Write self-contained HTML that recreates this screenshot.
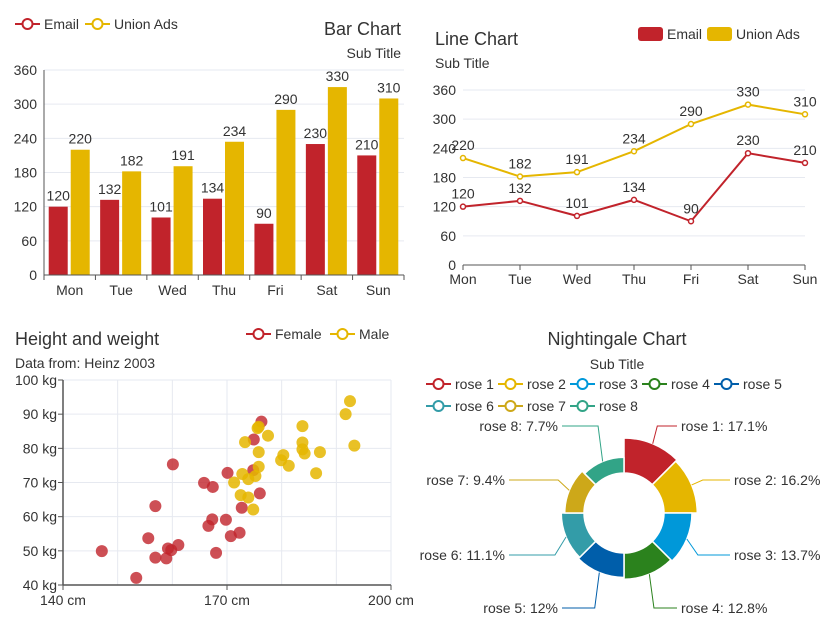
<!DOCTYPE html>
<html><head><meta charset="utf-8"><style>
body{margin:0;background:#fff;}
svg{font-family:"Liberation Sans",sans-serif;}
text{fill:#333;}
</style></head><body>
<svg id="s" width="830" height="630" xmlns="http://www.w3.org/2000/svg"></svg>
<script>
const days=['Mon','Tue','Wed','Thu','Fri','Sat','Sun'];
const emailVals=[120,132,101,134,90,230,210];
const unionVals=[220,182,191,234,290,330,310];
const yTicks=[0,60,120,180,240,300,360];
const femaleH=[147.1,153.4,155.6,156.9,156.9,158.9,159.2,159.8,161.1,160.1,165.8,167.4,166.6,167.3,168,169.8,170.1,170.7,172.3,172.7,174.8,174.9,176,176.3];
const femaleW=[49.9,42.1,53.7,63.1,48,47.8,50.7,50.2,51.7,75.3,69.9,68.7,57.3,59.2,49.4,59.1,72.8,54.3,55.3,62.6,73.6,82.6,66.8,87.8];
const maleH=[173.3,171.3,172.8,173.9,175.2,175.8,175.8,175.8,175.6,177.5,172.5,173.9,174.8,179.9,180.3,181.3,183.8,183.8,183.8,184.2,187,186.3,191.7,192.5,193.3];
const maleW=[81.8,70,72.5,71,71.9,74.6,78.9,86.3,85.9,83.7,66.3,65.6,62.1,76.5,78,74.9,86.5,81.7,79.7,78.5,78.9,72.7,90,93.8,80.8];
const sxTicks=[140,170,200];
const syTicks=[40,50,60,70,80,90,100];
const roseNames=['rose 1','rose 2','rose 3','rose 4','rose 5','rose 6','rose 7','rose 8'];
const roseVals=[40,38,32,30,28,26,22,18];

const RED='#c1232b',YEL='#e5b600';
const roseColors=['#c1232b','#e5b600','#0098d9','#2b821d','#005eaa','#339ca8','#cda819','#32a487'];
const S=document.getElementById('s');const NS='http://www.w3.org/2000/svg';
function el(t,a,txt,p){const e=document.createElementNS(NS,t);for(const k in a)e.setAttribute(k,a[k]);if(txt!=null)e.textContent=txt;(p||S).appendChild(e);return e;}
function grp(name){const g=el('g',{});return g;}
function legendLine(g,x,y,c,label,name){const lg=el('g',{},null,g);
 el('line',{x1:x,y1:y,x2:x+25,y2:y,stroke:c,'stroke-width':2},null,lg);el('circle',{cx:x+12.5,cy:y,r:5,fill:'#fff',stroke:c,'stroke-width':2},null,lg);
 el('text',{x:x+29,y:y+5,'font-size':14},label,lg);}
function legendRect(g,x,y,c,label,name){const lg=el('g',{},null,g);
 el('rect',{x:x,y:y-7,width:25,height:14,rx:3,fill:c},null,lg);el('text',{x:x+29,y:y+5,'font-size':14},label,lg);}

// ---- Bar chart
(function(){const g=grp('bar-chart');
 const x0=44,x1=404,yb=275,yt=70;const bw=(x1-x0)/days.length;
 const Y=v=>yb-(v/360)*(yb-yt);
 yTicks.forEach(t=>{if(t>0)el('line',{x1:x0,x2:x1,y1:Y(t),y2:Y(t),stroke:'#e6e9f0'},null,g);
  const tl=el('text',{x:x0-7,y:Y(t)+5,'font-size':14,'text-anchor':'end'},t,g);});
 el('line',{x1:x0,x2:x0,y1:yt,y2:yb,stroke:'#555'},null,g);
 days.forEach((d,i)=>{const c=x0+bw*(i+.5);
  const b1=el('rect',{x:c-21,y:Y(emailVals[i]),width:19,height:yb-Y(emailVals[i]),fill:RED},null,g);
  const b2=el('rect',{x:c+1,y:Y(unionVals[i]),width:19,height:yb-Y(unionVals[i]),fill:YEL},null,g);
  el('text',{x:c-11.5,y:Y(emailVals[i])-6,'font-size':14,'text-anchor':'middle'},emailVals[i],g);
  el('text',{x:c+10.5,y:Y(unionVals[i])-6,'font-size':14,'text-anchor':'middle'},unionVals[i],g);
  el('line',{x1:x0+bw*i,x2:x0+bw*i,y1:yb,y2:yb+5,stroke:'#555'},null,g);
  const xl=el('text',{x:c,y:yb+20,'font-size':14,'text-anchor':'middle'},d,g);});
 el('line',{x1:x1,x2:x1,y1:yb,y2:yb+5,stroke:'#555'},null,g);
 el('line',{x1:x0,x2:x1,y1:yb,y2:yb,stroke:'#555'},null,g);
 const t=el('text',{x:401,y:35,'font-size':18,'text-anchor':'end'},'Bar Chart',g);
 el('text',{x:401,y:58,'font-size':14,'text-anchor':'end'},'Sub Title',g);
 legendLine(g,15,24,RED,'Email','legend-email');legendLine(g,85,24,YEL,'Union Ads','legend-union-ads');
})();

// ---- Line chart
(function(){const g=grp('line-chart');
 const x0=463,x1=805,yb=265,yt=90;const st=(x1-x0)/(days.length-1);
 const X=i=>x0+st*i,Y=v=>yb-(v/360)*(yb-yt);
 yTicks.forEach(t=>{if(t>0)el('line',{x1:x0,x2:x1,y1:Y(t),y2:Y(t),stroke:'#e6e9f0'},null,g);
  el('text',{x:x0-7,y:Y(t)+5,'font-size':14,'text-anchor':'end'},t,g);});
 el('line',{x1:x0,x2:x1,y1:yb,y2:yb,stroke:'#555'},null,g);
 days.forEach((d,i)=>{el('line',{x1:X(i),x2:X(i),y1:yb,y2:yb+5,stroke:'#555'},null,g);el('text',{x:X(i),y:yb+19,'font-size':14,'text-anchor':'middle'},d,g);});
 [[emailVals,RED,'line-email'],[unionVals,YEL,'line-union-ads']].forEach(([vals,c,n])=>{
  const p=el('polyline',{points:vals.map((v,i)=>X(i)+','+Y(v)).join(' '),fill:'none',stroke:c,'stroke-width':2},null,g);
  vals.forEach((v,i)=>{el('circle',{cx:X(i),cy:Y(v),r:2.5,fill:'#fff',stroke:c,'stroke-width':1.5},null,g);el('text',{x:X(i),y:Y(v)-8,'font-size':14,'text-anchor':'middle'},v,g);});});
 el('text',{x:435,y:45,'font-size':18},'Line Chart',g);
 el('text',{x:435,y:68,'font-size':14},'Sub Title',g);
 legendRect(g,638,34,RED,'Email','legend-email');legendRect(g,707,34,YEL,'Union Ads','legend-union-ads');
})();

// ---- Scatter
(function(){const g=grp('scatter-chart');
 const x0=63,x1=391,yb=585,yt=380;
 const X=v=>x0+(v-140)/60*(x1-x0),Y=v=>yb-(v-40)/60*(yb-yt);
 for(let v=150;v<=200;v+=10)el('line',{x1:X(v),x2:X(v),y1:yt,y2:yb,stroke:'#e6e9f0'},null,g);
 syTicks.forEach(t=>{if(t>40)el('line',{x1:x0,x2:x1,y1:Y(t),y2:Y(t),stroke:'#e6e9f0'},null,g);
  el('line',{x1:x0-5,x2:x0,y1:Y(t),y2:Y(t),stroke:'#555'},null,g);
  el('text',{x:x0-6,y:Y(t)+5,'font-size':14,'text-anchor':'end'},t+' kg',g);});
 sxTicks.forEach(t=>{el('line',{x1:X(t),x2:X(t),y1:yb,y2:yb+5,stroke:'#555'},null,g);el('text',{x:X(t),y:yb+20,'font-size':14,'text-anchor':'middle'},t+' cm',g);});
 el('line',{x1:x0,x2:x0,y1:yt,y2:yb,stroke:'#555','stroke-width':1.5},null,g);
 el('line',{x1:x0,x2:x1,y1:yb,y2:yb,stroke:'#555','stroke-width':1.5},null,g);
 femaleH.forEach((h,i)=>{const c=el('circle',{cx:X(h),cy:Y(femaleW[i]),r:6,fill:RED,'fill-opacity':0.8},null,g);});
 maleH.forEach((h,i)=>{const c=el('circle',{cx:X(h),cy:Y(maleW[i]),r:6,fill:YEL,'fill-opacity':0.85},null,g);});
 el('text',{x:15,y:345,'font-size':18},'Height and weight',g);
 el('text',{x:15,y:368,'font-size':14},'Data from: Heinz 2003',g);
 legendLine(g,246,334,RED,'Female','legend-female');legendLine(g,330,334,YEL,'Male','legend-male');
})();

// ---- Nightingale
(function(){const g=grp('nightingale-chart');
 const cx=624,cy=513,r0=40,rMax=75;const mx=Math.max(...roseVals);const tot=roseVals.reduce((a,b)=>a+b,0);
 const n=roseVals.length,da=2*Math.PI/n;
 const pt=(r,a)=>[cx+r*Math.sin(a),cy-r*Math.cos(a)];
 const lblPos=[[681,431,'start'],[734,485,'start'],[734,560,'start'],[681,613,'start'],[558,613,'end'],[505,560,'end'],[505,485,'end'],[558,431,'end']];
 roseVals.forEach((v,i)=>{const r=r0+(rMax-r0)*(v/mx);const a0=da*i,a1=da*(i+1);
  const [ax,ay]=pt(r0,a0),[bx,by]=pt(r,a0),[cx2,cy2]=pt(r,a1),[dx,dy]=pt(r0,a1);
  const p=el('path',{d:`M${ax},${ay}L${bx},${by}A${r},${r} 0 0 1 ${cx2},${cy2}L${dx},${dy}A${r0},${r0} 0 0 0 ${ax},${ay}Z`,fill:roseColors[i],stroke:'#fff','stroke-width':1.5,'stroke-linejoin':'round'},null,g);
  
  const am=(a0+a1)/2;const [ex,ey]=pt(r,am);const [kx,ky]=pt(r+12,am);const L=lblPos[i];
  const hx=L[2]==='start'?L[0]-4:L[0]+4;
  el('polyline',{points:`${ex},${ey} ${kx},${L[1]-5} ${hx},${L[1]-5}`,fill:'none',stroke:roseColors[i],'stroke-width':1},null,g);
  const pct=Math.round(v/tot*1000)/10;
  el('text',{x:L[0],y:L[1],'font-size':14,'text-anchor':L[2]},roseNames[i]+': '+pct+'%',g);});
 el('text',{x:617,y:345,'font-size':18,'text-anchor':'middle'},'Nightingale Chart',g);
 el('text',{x:617,y:369,'font-size':14,'text-anchor':'middle'},'Sub Title',g);
 roseNames.forEach((nm,i)=>{const row=i<5?0:1,col=i<5?i:i-5;legendLine(g,426+col*72,384+row*22,roseColors[i],nm,'legend-'+nm.replace(' ','-'));});
})();
</script>
</body></html>
